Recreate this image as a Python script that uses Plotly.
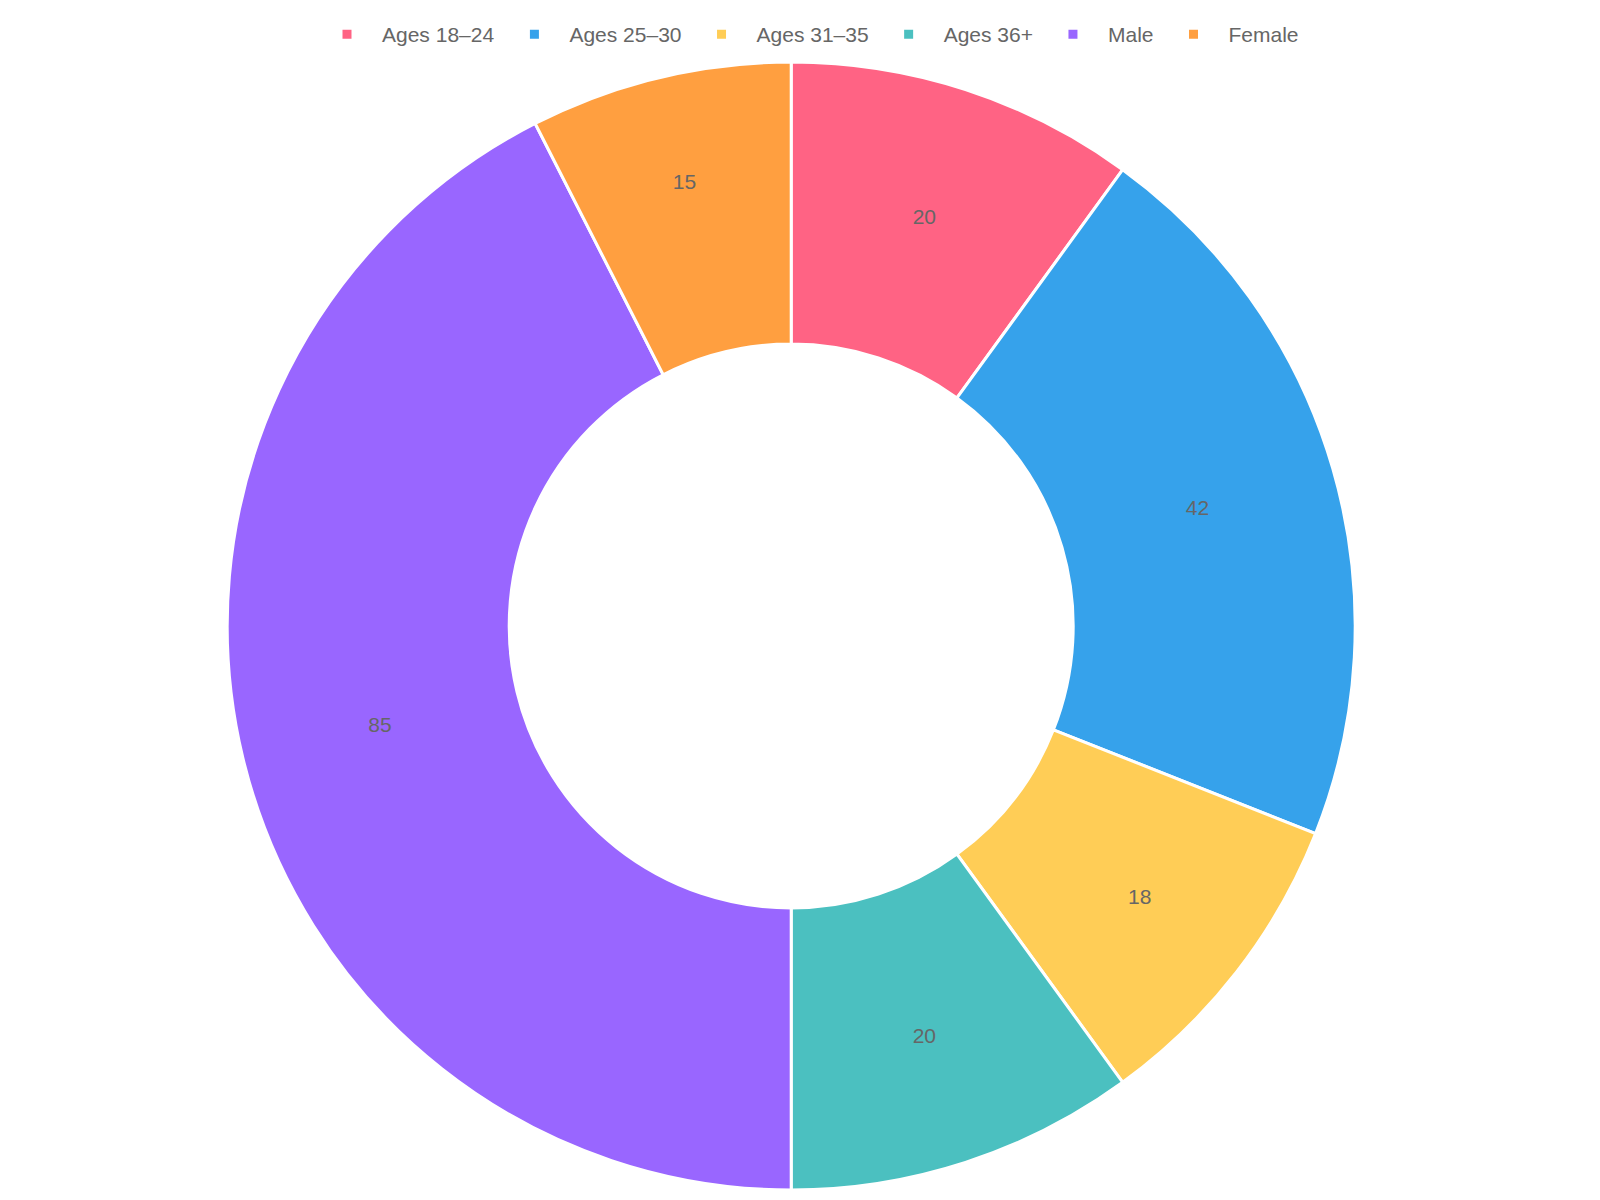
import plotly.graph_objects as go

labels = ["Ages 18–24", "Ages 25–30", "Ages 31–35", "Ages 36+", "Male", "Female"]
values = [20, 42, 18, 20, 85, 15]
colors = ["#ff6384", "#36a2eb", "#ffcd56", "#4bc0c0", "#9966ff", "#ff9f40"]

fig = go.Figure(go.Pie(
    labels=labels,
    values=values,
    hole=0.5,
    sort=False,
    direction="clockwise",
    marker=dict(colors=colors, line=dict(color="white", width=3)),
    textinfo="value",
    textposition="inside",
    insidetextorientation="horizontal",
    textfont=dict(color="#666666", size=21),
    domain=dict(x=[0, 0.979], y=[0.015, 0.955]),
))

fig.update_layout(
    width=1600, height=1200,
    margin=dict(l=0, r=0, t=0, b=0),
    paper_bgcolor="white",
    font=dict(family="Liberation Sans, Arial, sans-serif", color="#666666", size=20),
    legend=dict(orientation="h", x=0.5, xanchor="center", y=0.995, yanchor="top",
                font=dict(size=21, color="#666666"), itemwidth=60),
)

fig.write_html("out.html")
